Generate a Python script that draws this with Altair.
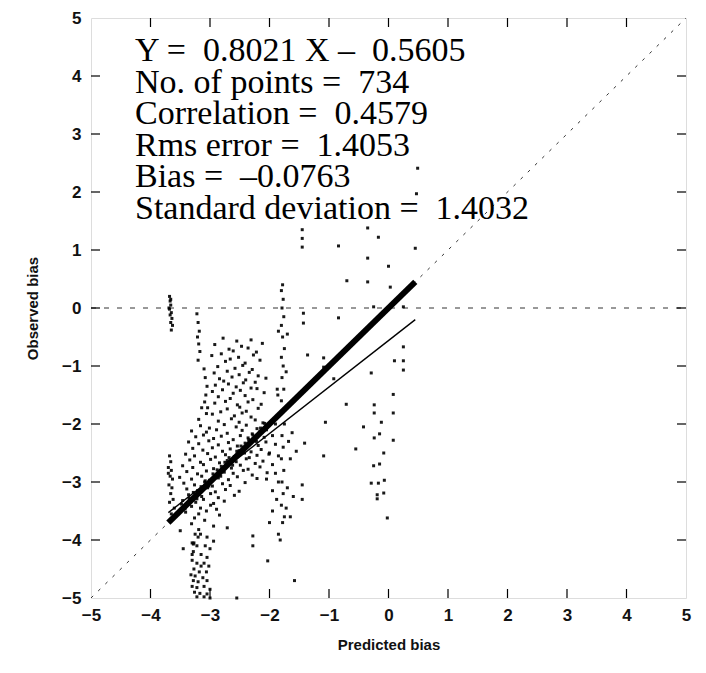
import altair as alt
import pandas as pd

# ---------------- data ----------------
# cluster near y = 0 at x ~ -3.67
a_x = [-3.68, -3.67, -3.66, -3.68, -3.65, -3.67, -3.64, -3.66, -3.63, -3.65, -3.69, -3.66]
a_y = [0.2, 0.12, 0.05, -0.02, -0.08, -0.12, -0.18, -0.25, -0.3, -0.38, 0.0, 0.15]

# column at x ~ -3.2 .. -3.0, upper part
b_x = [-3.22, -3.2, -3.18, -3.21, -3.19, -3.17, -3.2, -3.1, -3.08, -3.05, -3.07, -3.09, -3.04, -3.06]
b_y = [-0.1, -0.25, -0.4, -0.5, -0.62, -0.75, -0.9, -1.05, -1.2, -1.35, -1.5, -1.62, -1.72, -1.82]

# bottom column x ~ -3.3 .. -3.0
c_x = [-3.25, -3.2, -3.05, -3.3, -3.22, -3.08, -3.0, -3.28, -3.15, -3.05, -3.3, -3.22, -3.1, -3.02,
       -3.27, -3.18, -3.06, -3.32, -3.25, -3.12, -3.28, -3.2, -3.05, -3.3, -3.22, -3.1, -3.0, -3.26,
       -3.17, -3.05, -3.22, -3.1, -3.0, -3.3, -3.15, -3.27, -3.16, -3.28, -3.5, -3.45, -2.94, -2.55]
c_y = [-3.9, -3.95, -3.95, -4.05, -4.1, -4.1, -4.15, -4.2, -4.25, -4.3, -4.35, -4.4, -4.4, -4.45,
       -4.5, -4.55, -4.55, -4.6, -4.62, -4.65, -4.7, -4.72, -4.7, -4.8, -4.82, -4.8, -4.85, -4.9,
       -4.92, -4.93, -4.98, -4.98, -5.0, -4.25, -4.45, -4.05, -3.9, -4.07, -3.84, -4.15, -4.02, -5.0]

# column left of the fit line at x ~ -3.65
d_x = [-3.68, -3.66, -3.7, -3.65, -3.67, -3.63, -3.69, -3.64, -3.66, -3.62, -3.68, -3.6, -3.65, -3.7]
d_y = [-2.55, -2.65, -2.75, -2.8, -2.9, -2.95, -3.05, -3.1, -3.2, -3.3, -3.35, -3.45, -3.55, -2.85]

# main cloud, upper part (predicted, observed)
e_upper = [
    (-2.78, -0.52), (-2.55, -0.57), (-2.31, -0.55), (-2.92, -0.63), (-2.47, -0.66), (-2.12, -0.61),
    (-2.68, -0.71), (-2.61, -0.74), (-2.36, -0.69), (-2.22, -0.76), (-2.97, -0.82), (-2.81, -0.79),
    (-2.52, -0.85), (-2.27, -0.81), (-2.74, -0.92), (-2.66, -0.88), (-2.41, -0.95), (-2.16, -0.9),
    (-2.87, -1.01), (-2.58, -1.04), (-2.45, -0.99), (-2.29, -1.06), (-2.93, -1.12), (-2.71, -1.09),
    (-2.51, -1.15), (-2.34, -1.11), (-2.19, -1.17), (-2.84, -1.22), (-2.77, -1.26), (-2.63, -1.19),
    (-2.4, -1.24), (-2.24, -1.28), (-2.06, -1.21), (-2.91, -1.33), (-2.69, -1.31), (-2.56, -1.36),
    (-2.44, -1.29), (-2.31, -1.38), (-2.96, -1.44), (-2.79, -1.41), (-2.61, -1.47), (-2.49, -1.42),
    (-2.21, -1.39), (-2.09, -1.46), (-2.86, -1.53), (-2.66, -1.56), (-2.41, -1.51), (-2.28, -1.58),
    (-2.92, -1.64), (-2.74, -1.61), (-2.54, -1.67), (-2.36, -1.62), (-2.14, -1.66), (-3.14, -1.72),
    (-2.71, -1.74), (-2.5, -1.71), (-2.39, -1.78), (-2.19, -1.73), (-2.96, -1.83), (-2.82, -1.79),
    (-2.59, -1.86), (-2.46, -1.81), (-2.31, -1.88), (-3.19, -1.92), (-2.86, -1.95), (-2.64, -1.91),
    (-2.51, -1.97), (-2.24, -1.93), (-2.11, -1.98),
]

# main cloud, lower dense part (predicted, observed)
e_lower = [
    (-3.16, -2.03), (-3.01, -2.07), (-2.76, -2.01), (-2.56, -2.05), (-2.39, -2.02), (-2.21, -2.08),
    (-2.04, -2.04), (-3.31, -2.12), (-3.06, -2.14), (-2.89, -2.1), (-2.71, -2.16), (-2.46, -2.11),
    (-2.29, -2.17), (-2.16, -2.13), (-3.24, -2.22), (-3.11, -2.19), (-2.94, -2.25), (-2.81, -2.21),
    (-2.61, -2.27), (-2.49, -2.2), (-2.36, -2.24), (-2.26, -2.29), (-2.09, -2.23), (-3.36, -2.31),
    (-3.19, -2.34), (-3.02, -2.29), (-2.86, -2.36), (-2.69, -2.32), (-2.54, -2.38), (-2.41, -2.33),
    (-2.19, -2.37), (-2.06, -2.31), (-3.29, -2.42), (-3.12, -2.45), (-2.96, -2.41), (-2.79, -2.47),
    (-2.66, -2.43), (-2.51, -2.46), (-2.44, -2.4), (-2.31, -2.48), (-2.14, -2.44), (-3.41, -2.52),
    (-3.26, -2.55), (-3.04, -2.51), (-2.91, -2.57), (-2.74, -2.53), (-2.59, -2.56), (-2.47, -2.5),
    (-2.34, -2.58), (-2.21, -2.54), (-2.01, -2.52), (-3.34, -2.62), (-3.16, -2.66), (-2.99, -2.61),
    (-2.84, -2.67), (-2.71, -2.63), (-2.56, -2.65), (-2.39, -2.6), (-2.24, -2.68), (-2.11, -2.64),
    (-3.46, -2.72), (-3.29, -2.75), (-3.11, -2.7), (-2.94, -2.77), (-2.81, -2.73), (-2.64, -2.76),
    (-2.49, -2.71), (-2.36, -2.78), (-2.16, -2.74), (-3.39, -2.82), (-3.21, -2.86), (-3.06, -2.81),
    (-2.89, -2.87), (-2.76, -2.83), (-2.61, -2.85), (-2.44, -2.8), (-2.29, -2.88), (-2.04, -2.84),
    (-3.51, -2.92), (-3.31, -2.95), (-3.14, -2.9), (-3.01, -2.97), (-2.86, -2.93), (-2.69, -2.96),
    (-2.54, -2.91), (-2.21, -2.94), (-3.44, -3.02), (-3.26, -3.05), (-3.09, -3.0), (-2.96, -3.07),
    (-2.79, -3.03), (-2.66, -3.06), (-2.41, -3.01), (-3.39, -3.12), (-3.21, -3.15), (-3.04, -3.1),
    (-2.91, -3.17), (-2.74, -3.13), (-2.51, -3.16), (-3.36, -3.22), (-3.14, -3.25), (-2.99, -3.2),
    (-2.86, -3.27), (-2.59, -3.23), (-3.46, -3.32), (-3.24, -3.35), (-3.11, -3.3), (-2.94, -3.37),
    (-2.76, -3.33), (-3.31, -3.42), (-3.16, -3.45), (-2.99, -3.4), (-2.89, -3.47), (-3.41, -3.52),
    (-3.19, -3.55), (-3.06, -3.5), (-2.84, -3.57), (-3.26, -3.62), (-3.09, -3.66), (-3.31, -3.72),
    (-2.94, -3.76), (-3.19, -3.82), (-2.71, -3.79),
]

# dense band of points along the diagonal
e_band = [
    (-3.48, -3.38), (-3.42, -3.46), (-3.35, -3.28), (-3.28, -3.18), (-3.22, -3.29), (-3.15, -3.08),
    (-3.08, -2.98), (-3.02, -3.07), (-2.95, -2.86), (-2.88, -2.79), (-2.82, -2.9), (-2.75, -2.66),
    (-2.68, -2.58), (-2.62, -2.71), (-2.55, -2.47), (-2.48, -2.38), (-2.42, -2.5), (-2.35, -2.27),
    (-2.28, -2.19), (-2.22, -2.3), (-2.15, -2.07), (-2.08, -1.99),
]

# column at x ~ -1.8
f_x = [-1.78, -1.8, -1.77, -1.79, -1.76, -1.8, -1.78, -1.75, -1.8, -1.77, -1.79, -1.76, -1.8, -1.78,
       -1.75, -1.79, -1.77, -1.8, -1.76, -1.79, -1.77, -1.8, -1.75, -1.78, -1.7, -1.72, -1.68,
       -1.85, -1.87, -1.86]
f_y = [0.4, 0.3, 0.15, 0.0, -0.15, -0.3, -0.5, -0.7, -0.85, -1.0, -1.2, -1.4, -1.6, -1.8,
       -2.0, -2.2, -2.4, -2.6, -2.8, -3.0, -3.2, -3.4, -3.6, -3.7, -0.45, -1.1, -2.3,
       -0.4, -1.4, -1.5]

# points right of the fit line, x ~ -2.1 .. -1.6
g_x = [-2.05, -1.95, -1.9, -2.0, -1.85, -1.95, -1.65, -1.9, -2.05, -1.85, -1.7, -1.95, -1.6, -1.88,
       -1.72, -1.95, -1.65, -2.0, -1.85, -2.03, -1.58, -1.9, -1.62, -2.28, -2.28, -1.82, -1.55]
g_y = [-2.1, -2.2, -2.35, -2.5, -2.55, -2.7, -2.6, -2.85, -2.95, -3.0, -3.1, -3.15, -3.25, -3.3,
       -3.45, -3.5, -3.6, -3.7, -3.9, -4.36, -4.7, -2.0, -2.15, -3.93, -4.1, -4.0, -2.47]

# sparse points, x ~ -1.5 .. 0.5
h_x = [-1.45, -1.45, -1.45, -0.84, -0.35, -0.17, -0.35, 0.0, 0.45, 0.49, 0.47, -0.7, -0.35, 0.03,
       -0.84, -0.25, 0.25, -1.43, -1.43, 0.25, -1.36, -1.09, -1.09, -0.92, 0.1, 0.25, 0.25, -0.29,
       0.08, -0.71, -0.24, -0.24, 0.08, -1.06, -0.12, -0.42, -0.15, -0.24, 0.08, -1.41, -0.55,
       -0.08, -1.09, -0.15, -0.25, -0.29, -0.17, -0.07, -0.19, -0.08, -0.19, -0.02, -1.45, -1.45]
h_y = [1.35, 1.2, 1.05, 1.07, 1.38, 1.22, 0.86, 0.72, 1.03, 2.41, 1.97, 0.47, 0.45, 0.36,
       -0.17, 0.02, 0.02, -0.09, -0.26, -0.67, -0.81, -0.86, -1.02, -1.22, -0.91, -0.91, -1.07, -1.12,
       -1.49, -1.66, -1.67, -1.81, -1.81, -1.97, -1.97, -2.05, -2.17, -2.24, -2.28, -2.33, -2.43,
       -2.5, -2.55, -2.69, -2.72, -3.02, -3.02, -2.97, -3.22, -3.19, -3.29, -3.62, -3.05, -3.3]

# statistics shown on the chart
slope = 0.8021
intercept = -0.5605
fit_range = [-3.7, 0.45]
NB = "\u00a0"
stats_lines = [
    f"Y ={NB}{NB}0.8021 X \u2013{NB}{NB}0.5605",
    f"No. of points ={NB}{NB}734",
    f"Correlation ={NB}{NB}0.4579",
    f"Rms error ={NB}{NB}1.4053",
    f"Bias ={NB}{NB}\u20130.0763",
    f"Standard deviation ={NB}{NB}1.4032",
]
tick_values = [-5, -4, -3, -2, -1, 0, 1, 2, 3, 4, 5]
inner_ticks = [-4, -3, -2, -1, 0, 1, 2, 3, 4]

# ---------------- build tables ----------------
px, py = [], []
for xs_, ys_ in [(a_x, a_y), (b_x, b_y), (c_x, c_y), (d_x, d_y), (f_x, f_y), (g_x, g_y), (h_x, h_y)]:
    px += xs_
    py += ys_
for grp in (e_upper, e_lower, e_band):
    px += [p[0] for p in grp]
    py += [p[1] for p in grp]
points = pd.DataFrame({"pred": px, "obs": py})

diag = pd.DataFrame({"pred": [-5, 5], "obs": [-5, 5]})
zero = pd.DataFrame({"pred": [-5, 5], "obs": [0, 0]})
thick = pd.DataFrame({"pred": fit_range, "obs": fit_range})
fit = pd.DataFrame({"pred": fit_range, "obs": [slope * v + intercept for v in fit_range]})
ticks = pd.DataFrame({"t": inner_ticks})

W, H = 595, 580
xs = alt.Scale(domain=[-5, 5], nice=False, zero=False)
ys = alt.Scale(domain=[-5, 5], nice=False, zero=False)

axis_common = dict(values=tick_values, format="d", ticks=False, domain=False, grid=False,
                   labelFont="Liberation Sans", labelFontSize=17, labelFontWeight="bold",
                   labelColor="#111", titleFont="Liberation Sans", titleFontSize=15,
                   titleFontWeight="bold", titleColor="#111", labelFlush=False)

X = alt.X("pred:Q", scale=xs, title="Predicted bias",
          axis=alt.Axis(**axis_common, labelPadding=9, titlePadding=14))
Y = alt.Y("obs:Q", scale=ys, title="Observed bias",
          axis=alt.Axis(**axis_common, labelPadding=10, titlePadding=21))

diag_l = alt.Chart(diag).mark_line(color="#333", strokeWidth=1, strokeDash=[3, 7]).encode(x=X, y=Y)
zero_l = alt.Chart(zero).mark_line(color="#333", strokeWidth=1, strokeDash=[5, 8]).encode(x=X, y=Y)
pts = alt.Chart(points).mark_square(size=9, color="black", opacity=0.9).encode(x=X, y=Y)
thick_l = alt.Chart(thick).mark_line(color="black", strokeWidth=6).encode(x=X, y=Y)
fit_l = alt.Chart(fit).mark_line(color="black", strokeWidth=1.4).encode(x=X, y=Y)

tx = alt.X("t:Q", scale=xs)
ty = alt.Y("t:Q", scale=ys)
tl = 9
tick_b = alt.Chart(ticks).mark_rule(color="black", strokeWidth=1.2).encode(x=tx, y=alt.value(H), y2=alt.value(H - tl))
tick_t = alt.Chart(ticks).mark_rule(color="black", strokeWidth=1.2).encode(x=tx, y=alt.value(0), y2=alt.value(tl))
tick_l = alt.Chart(ticks).mark_rule(color="black", strokeWidth=1.2).encode(y=ty, x=alt.value(0), x2=alt.value(tl))
tick_r = alt.Chart(ticks).mark_rule(color="black", strokeWidth=1.2).encode(y=ty, x=alt.value(W), x2=alt.value(W - tl))

texts = []
for i, s in enumerate(stats_lines):
    texts.append(
        alt.Chart(pd.DataFrame({"s": [s]})).mark_text(
            align="left", baseline="middle", font="Liberation Serif", fontSize=34, color="black"
        ).encode(text="s:N", x=alt.value(44), y=alt.value(33 + i * 31.6))
    )

chart = alt.layer(diag_l, zero_l, pts, thick_l, fit_l, tick_b, tick_t, tick_l, tick_r, *texts).properties(
    width=W, height=H,
    autosize=alt.AutoSizeParams(type="none"),
    padding={"left": 91, "top": 18, "right": 20, "bottom": 75},
).configure_view(stroke="black", strokeWidth=1.5).configure(background="white")

chart.save("out.html", embed_options={"renderer": "svg", "actions": False})
